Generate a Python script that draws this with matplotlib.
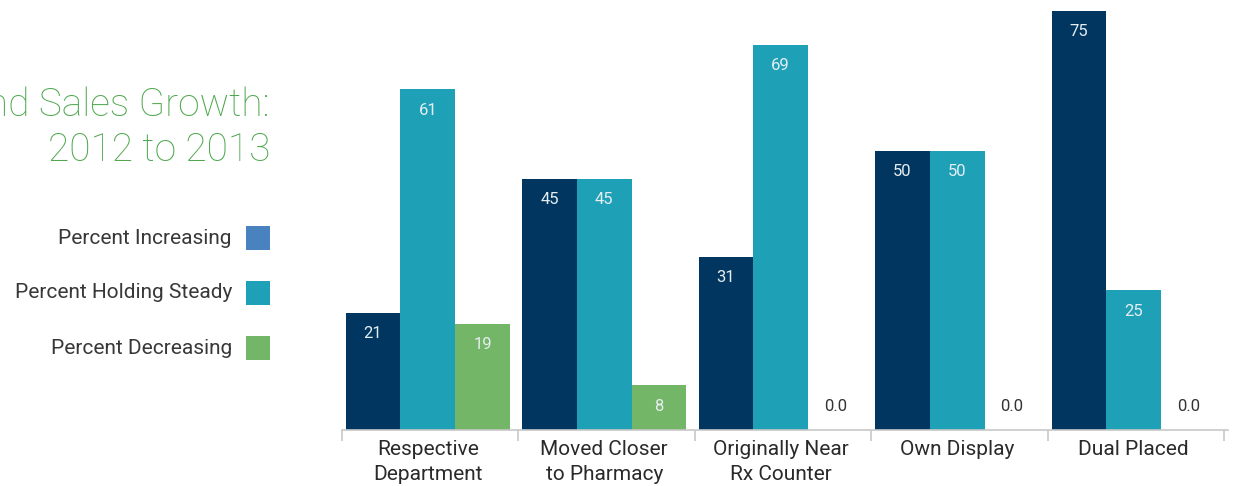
import matplotlib
matplotlib.use("Agg")
import matplotlib.pyplot as plt
import numpy as np
from matplotlib.patches import Rectangle

categories = ["Respective\nDepartment", "Moved Closer\nto Pharmacy", "Originally Near\nRx Counter",
              "Own Display", "Dual Placed"]
increasing = [21, 45, 31, 50, 75]
holding = [61, 45, 69, 50, 25]
decreasing = [19, 8, 0, 0, 0]
series_names = ["Percent Increasing", "Percent Holding Steady", "Percent Decreasing"]
title_lines = ["Brand Sales Growth:", "2012 to 2013"]

bar_colors = ["#00365f", "#1ea1b6", "#74b667"]
legend_colors = ["#4a81bf", "#1ea1b6", "#74b667"]

plt.rcParams['font.family'] = ['Roboto', 'DejaVu Sans']

W, H = 1235, 486
fig = plt.figure(figsize=(W / 100, H / 100), dpi=100)

ax_left, ax_right, ax_bottom_px = 342, 1228, 430
ax = fig.add_axes([ax_left / W, (H - ax_bottom_px) / H, (ax_right - ax_left) / W, ax_bottom_px / H])
ppu = 419 / 75.0
ax.set_ylim(0, ax_bottom_px / ppu)
ax.set_xlim(0, 5)

cat_w_px = (ax_right - ax_left) / 5
bw = 55 / cat_w_px
x = np.arange(len(categories))
all_series = [increasing, holding, decreasing]
for k, (vals, col) in enumerate(zip(all_series, bar_colors)):
    xs = x + k * bw
    ax.bar(xs, vals, width=bw, align='edge', color=col, linewidth=0)
    for xi, v in zip(xs, vals):
        off = 21 / ppu
        if v > 0:
            ax.text(xi + bw / 2, v - off, f"{v}", ha='center', va='center', color='#e6edf2',
                    fontsize=12)
        else:
            ax.text(xi + bw / 2, 24 / ppu, "0.0", ha='center', va='center', color='#333333',
                    fontsize=12)

for s in ['top', 'right', 'left']:
    ax.spines[s].set_visible(False)
ax.spines['bottom'].set_color('#c8c8c8')
ax.spines['bottom'].set_linewidth(1.2)
ax.set_yticks([])
ax.set_xticks(list(np.arange(6) - 0.02))
ax.set_xticklabels([])
ax.tick_params(axis='x', length=8, color='#c8c8c8', width=1.2)
ax.set_xticks(x + 1.5 * bw, minor=True)
ax.set_xticklabels(categories, minor=True, fontsize=15, color='#2a2a2a',
                   linespacing=1.45)
ax.tick_params(axis='x', which='minor', length=0, pad=7)

# Title
fig.text(270 / W, 1 - 105 / H, title_lines[0], ha='right', va='center', fontsize=28,
         color='#4fa84f', fontweight='light')
fig.text(270 / W, 1 - 150 / H, title_lines[1], ha='right', va='center', fontsize=28,
         color='#4fa84f', fontweight='light')

# Legend
for i, (name, col) in enumerate(zip(series_names, legend_colors)):
    yc = 238 + 55 * i
    fig.text(232 / W, 1 - yc / H, name, ha='right', va='center', fontsize=15,
             color='#383838')
    fig.patches.append(Rectangle((246 / W, 1 - (yc + 12) / H), 24 / W, 24 / H,
                                 transform=fig.transFigure, color=col, linewidth=0))

fig.savefig("out.png", dpi=100)
